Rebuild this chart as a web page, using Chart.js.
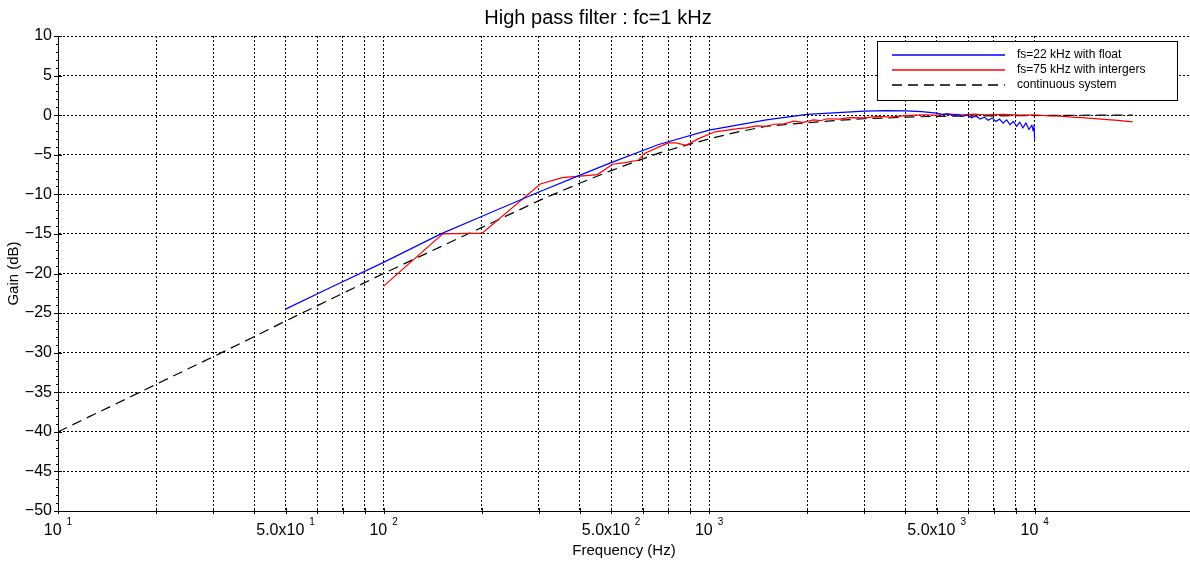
<!DOCTYPE html>
<html><head><meta charset="utf-8">
<script src="https://cdn.jsdelivr.net/npm/chart.js@4/dist/chart.umd.min.js"></script>
<style>html,body{margin:0;padding:0;background:#fff}#wrap{width:1190px;height:563px;position:relative}</style>
</head><body><div id="wrap"><canvas id="c" width="1190" height="563"></canvas></div>
<script>
const chartTitle = 'High pass filter : fc=1 kHz';
const xTitle = 'Frequency (Hz)';
const yTitle = 'Gain (dB)';
const seriesNames = ['fs=22 kHz with float', 'fs=75 kHz with intergers', 'continuous system'];

const floatFreq = [50, 70, 100, 150, 200, 300, 400, 500, 700, 1000, 1500, 2000, 3000, 3500, 4000, 4500, 5000, 5200, 5400, 5600, 5800, 6000, 6200, 6400, 6600, 6800, 7000, 7200, 7400, 7600, 7800, 8000, 8200, 8400, 8600, 8800, 9000, 9200, 9400, 9600, 9800, 9900, 9950, 10000];
const floatGain = [-24.5, -21.6, -18.6, -15.0, -12.8, -9.7, -7.6, -6.0, -3.7, -1.9, -0.6, 0.1, 0.5, 0.58, 0.55, 0.45, 0.25, 0.1, 0.2, -0.05, 0.1, -0.15, 0.0, -0.35, -0.1, -0.5, -0.25, -0.65, -0.35, -0.8, -0.5, -1.0, -0.6, -1.2, -0.8, -1.4, -0.9, -1.6, -1.0, -1.8, -1.3, -2.0, -1.2, -3.1];

const intFreq = [100, 152, 201, 303, 354, 454, 505, 551, 605, 635, 748, 791, 850, 925, 1043, 1227, 1300, 1400, 1500, 1578, 1700, 1817, 1950, 2092, 2200, 2300, 2500, 2700, 3000, 3300, 3600, 4000, 4500, 5000, 5500, 6000, 6500, 7000, 8000, 9000, 10000, 11000, 12000, 13000, 14000, 16000, 18000, 20000];
const intGain = [-21.6, -15.0, -14.9, -8.7, -7.9, -7.5, -6.2, -6.0, -5.7, -4.8, -3.5, -3.5, -3.8, -3.0, -2.1, -1.7, -1.6, -1.35, -1.4, -1.15, -1.1, -0.75, -0.9, -0.6, -0.7, -0.45, -0.5, -0.3, -0.35, -0.15, -0.25, -0.05, 0.05, 0.0, 0.12, 0.05, 0.12, 0.05, 0.1, 0.0, 0.05, -0.1, -0.12, -0.25, -0.3, -0.5, -0.65, -0.85];

const contFreq = [10, 15, 20, 30, 40, 50, 70, 100, 150, 200, 300, 400, 500, 600, 700, 800, 1000, 1200, 1500, 2000, 2500, 3000, 4000, 5000, 7000, 10000, 15000, 20000];
const contGain = [-40.0, -36.5, -34.0, -30.5, -28.0, -26.0, -23.1, -20.0, -16.6, -14.2, -10.8, -8.6, -7.0, -5.8, -4.8, -4.1, -3.0, -2.2, -1.4, -0.95, -0.65, -0.45, -0.25, -0.15, -0.1, -0.05, 0.0, 0.0];

const xGridValues = [10, 20, 30, 40, 50, 62.5, 75, 87.5, 100, 200, 300, 400, 500, 625, 750, 875, 1000, 2000, 3000, 4000, 5000, 6250, 7500, 8750, 10000];
const xLabelValues = [10, 50, 100, 500, 1000, 5000, 10000];
const xLabelBase = ['10', '5.0x10', '10', '5.0x10', '10', '5.0x10', '10'];
const xLabelExp = ['1', '1', '2', '2', '3', '3', '4'];
const yTickValues = [10, 5, 0, -5, -10, -15, -20, -25, -30, -35, -40, -45, -50];

const FONT = '"Liberation Sans", Arial, Helvetica, sans-serif';
const pts = (xs, ys) => xs.map((x, i) => ({x: x, y: ys[i]}));

const decor = {
  id: 'decor',
  beforeDraw(chart) {
    const c = chart.ctx;
    c.save(); c.fillStyle = '#fff'; c.fillRect(0, 0, chart.width, chart.height); c.restore();
  },
  afterDraw(chart) {
    const c = chart.ctx, xs = chart.scales.x, ys = chart.scales.y, a = chart.chartArea;
    c.save();
    c.strokeStyle = '#000'; c.lineWidth = 1; c.setLineDash([]);
    for (let v = -50; v <= 10; v += 1) {
      const y = Math.round(ys.getPixelForValue(v)) + 0.5;
      const major = v % 5 === 0;
      c.beginPath(); c.moveTo(a.left - (major ? 4 : 2), y); c.lineTo(a.left + (major ? 4 : 1), y); c.stroke();
    }
    xGridValues.forEach(v => {
      const x = Math.round(xs.getPixelForValue(v)) + 0.5;
      c.beginPath(); c.moveTo(x, a.bottom - 3); c.lineTo(x, a.bottom + 3); c.stroke();
    });
    c.fillStyle = '#000';
    c.font = '16px ' + FONT; c.textAlign = 'right'; c.textBaseline = 'middle';
    yTickValues.forEach(v => {
      c.fillText(String(v).replace('-', '\u2212'), a.left - 6, ys.getPixelForValue(v));
    });
    xLabelValues.forEach((v, i) => {
      const px = xs.getPixelForValue(v);
      c.font = '16px ' + FONT; const wb = c.measureText(xLabelBase[i]).width;
      c.font = '10px ' + FONT; const we = c.measureText(xLabelExp[i]).width;
      const gap = 5, total = wb + gap + we, x0 = px - total / 2;
      c.textAlign = 'left'; c.textBaseline = 'middle';
      c.font = '16px ' + FONT; c.fillText(xLabelBase[i], x0, a.bottom + 20);
      c.font = '10px ' + FONT; c.fillText(xLabelExp[i], x0 + wb + gap, a.bottom + 11);
    });
    c.font = '15px ' + FONT; c.textAlign = 'center'; c.textBaseline = 'middle';
    c.fillText(xTitle, (a.left + a.right) / 2, 551);
    c.save(); c.translate(14, (a.top + a.bottom) / 2); c.rotate(-Math.PI / 2); c.fillText(yTitle, 0, 0); c.restore();
    c.font = '20px ' + FONT; c.fillText(chartTitle, 598, 18);
    const lx = 877.5, ly = 41.5, lw = 300, lh = 59;
    c.fillStyle = '#fff'; c.fillRect(lx, ly, lw, lh);
    c.strokeStyle = '#000'; c.lineWidth = 1; c.strokeRect(lx, ly, lw, lh);
    const ds = chart.data.datasets;
    c.font = '12px ' + FONT; c.textAlign = 'left'; c.textBaseline = 'middle';
    ds.forEach((d, i) => {
      const y = 55 + i * 15;
      c.strokeStyle = d.borderColor; c.lineWidth = 1.3; c.setLineDash(d.borderDash || []);
      c.beginPath(); c.moveTo(892, y); c.lineTo(1005, y); c.stroke();
      c.fillStyle = '#000';
      c.fillText(d.label, 1017, y);
    });
    c.restore();
  }
};

new Chart(document.getElementById('c'), {
  type: 'line',
  data: {
    datasets: [
      {label: seriesNames[0], data: pts(floatFreq, floatGain), borderColor: '#0000ff', borderWidth: 1.2, pointRadius: 0, fill: false, tension: 0},
      {label: seriesNames[1], data: pts(intFreq, intGain), borderColor: '#ff0000', borderWidth: 1.2, pointRadius: 0, fill: false, tension: 0},
      {label: seriesNames[2], data: pts(contFreq, contGain), borderColor: '#000000', borderWidth: 1.2, borderDash: [10, 6], pointRadius: 0, fill: false, tension: 0}
    ]
  },
  options: {
    responsive: false, animation: false, devicePixelRatio: 1,
    layout: {padding: {left: 58, right: 0, top: 36, bottom: 52}},
    plugins: {legend: {display: false}, title: {display: false}, tooltip: {enabled: false}},
    scales: {
      x: {
        type: 'logarithmic', min: 10, max: 30000,
        afterBuildTicks: s => { s.ticks = xGridValues.map(v => ({value: v})); },
        ticks: {display: false},
        grid: {color: '#000', lineWidth: 1, drawTicks: false},
        border: {display: true, color: '#000', width: 1, dash: [2, 2]}
      },
      y: {
        type: 'linear', min: -50, max: 10,
        afterBuildTicks: s => { s.ticks = yTickValues.map(v => ({value: v})); },
        ticks: {display: false},
        grid: {color: '#000', lineWidth: 1, drawTicks: false},
        border: {display: true, color: '#000', width: 1, dash: [2, 2]}
      }
    }
  },
  plugins: [decor]
});
</script></body></html>
